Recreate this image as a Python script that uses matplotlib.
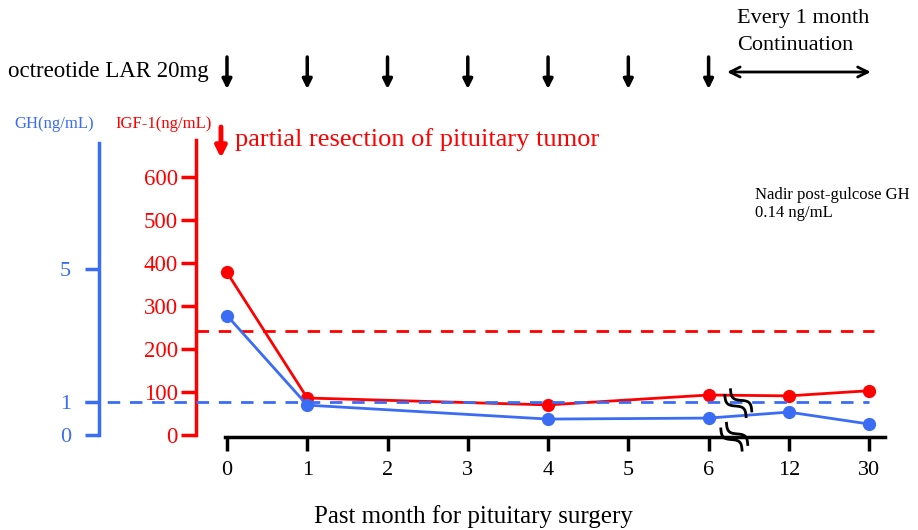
import numpy as np
import matplotlib.pyplot as plt
from matplotlib.lines import Line2D
from matplotlib.transforms import IdentityTransform

plt.rcParams['font.family'] = ['Liberation Serif', 'DejaVu Serif']

# months after surgery (categorical x axis)
months = ['0', '1', '2', '3', '4', '5', '6', '12', '30']
measured = [0, 1, 4, 6, 7, 8]          # index of months with a measurement
igf1 = [378, 86, 70, 93, 91, 103]       # ng/mL
gh = [3.6, 0.9, 0.48, 0.51, 0.69, 0.33] # ng/mL
igf1_ref = 241
gh_ref = 1
injections = [0, 1, 2, 3, 4, 5, 6]     # octreotide LAR given

red = '#ff0000'
blue = '#3b6cf4'

fig = plt.figure(figsize=(9.18, 5.30), dpi=100)
ax = fig.add_axes([196/918, (530-435)/530, 694/918, 295/530])
ax.set_xlim(-0.386, 8.26)
ax.set_ylim(0, 686)

# IGF-1 axis (red)
for s in ['top', 'right']:
    ax.spines[s].set_visible(False)
ax.spines['left'].set_color(red)
ax.spines['left'].set_linewidth(2.5)
ax.spines['bottom'].set_linewidth(2.5)
ax.spines['bottom'].set_bounds(-0.03, 8.2)
ax.spines['bottom'].set_position(('outward', 1.5))
ax.set_yticks([0, 100, 200, 300, 400, 500, 600])
ax.tick_params(axis='y', colors=red, length=11, width=2.5, labelsize=16.5, pad=2)
ax.set_xticks(range(len(months)))
ax.set_xticklabels(months)
ax.tick_params(axis='x', colors='black', length=10, width=2.5, labelsize=16, pad=7)

ax.plot(measured, igf1, color=red, lw=2, marker='o', ms=8.5, zorder=4)
ax.axhline(igf1_ref, xmin=0, xmax=(8.06 + 0.386) / 8.646, color=red, lw=2, dashes=(4.5, 3.5))

# GH axis (blue)
ax2 = ax.twinx()
ax2.set_ylim(0, 8.89)
for s in ['top', 'right', 'bottom']:
    ax2.spines[s].set_visible(False)
ax2.spines['left'].set_visible(True)
ax2.spines['left'].set_position(('outward', 97 * 0.72))
ax2.spines['left'].set_color(blue)
ax2.spines['left'].set_linewidth(2.5)
ax2.spines['left'].set_bounds(0, 8.8)
ax2.yaxis.set_ticks_position('left')
ax2.set_yticks([0, 1, 5])
ax2.tick_params(axis='y', colors=blue, length=10, width=2.5, labelsize=16, pad=10)

ax2.plot(measured, gh, color=blue, lw=2, marker='o', ms=8.5, zorder=3)
ax2.plot([-1.77, 8.0], [gh_ref, gh_ref], color=blue, lw=2, dashes=(4.5, 3.5), clip_on=False)

# axis break marks between 6 and 12 months (two wavy strokes each)
t = np.linspace(-1, 1, 40)
d = np.array([1, -1]) / np.sqrt(2)
n = np.array([1, 1]) / np.sqrt(2)
for bx, by in [(6.37, 74), (6.32, -4)]:
    c = ax.transData.transform((bx, by))
    for off in (-4, 4):
        pts = c + np.outer(t * 15, d) + np.outer(4 * np.sin(np.pi * t) + off, n)
        fig.add_artist(Line2D(pts[:, 0], pts[:, 1], color='black', lw=2,
                              transform=IdentityTransform(), zorder=6))

# axis titles
fig.text(14/918, 1 - 124/530, 'GH(ng/mL)', color=blue, fontsize=12, va='center')
fig.text(115/918, 1 - 124/530, 'IGF-1(ng/mL)', color=red, fontsize=12, va='center')
fig.text(0.5155, 1 - 517/530, 'Past month for pituitary surgery', fontsize=18, ha='center', va='center')

# treatment timeline
fig.text(8/918, 1 - 72/530, 'octreotide LAR 20mg', fontsize=16.5, va='center')
for m in injections:
    ax.annotate('', xy=(m, 1 - 89/530), xytext=(m, 1 - 57/530),
                xycoords=('data', 'figure fraction'),
                arrowprops=dict(arrowstyle='-|>', lw=2.5, color='black', mutation_scale=14,
                                shrinkA=0, shrinkB=0))
ax.annotate('', xy=(6.23, 1 - 72/530), xytext=(8.02, 1 - 72/530),
            xycoords=('data', 'figure fraction'),
            arrowprops=dict(arrowstyle='<->', lw=2, color='black', mutation_scale=18,
                            shrinkA=0, shrinkB=0))
fig.text(737/918, 1 - 18/530, 'Every 1 month', fontsize=16, va='center')
fig.text(737/918, 1 - 45/530, 'Continuation', fontsize=16, va='center')

# surgery
ax.annotate('', xy=(-0.075, 1 - 158/530), xytext=(-0.075, 1 - 127/530),
            xycoords=('data', 'figure fraction'),
            arrowprops=dict(arrowstyle='-|>', lw=3.5, color=red, mutation_scale=16,
                            shrinkA=0, shrinkB=0))
fig.text(235/918, 1 - 140/530, 'partial resection of pituitary tumor', color=red,
         fontsize=19, va='center')

fig.text(755/918, 1 - 195/530, 'Nadir post-gulcose GH', fontsize=12, va='center')
fig.text(755/918, 1 - 213/530, '0.14 ng/mL', fontsize=12, va='center')

fig.savefig('out.png', dpi=100)
